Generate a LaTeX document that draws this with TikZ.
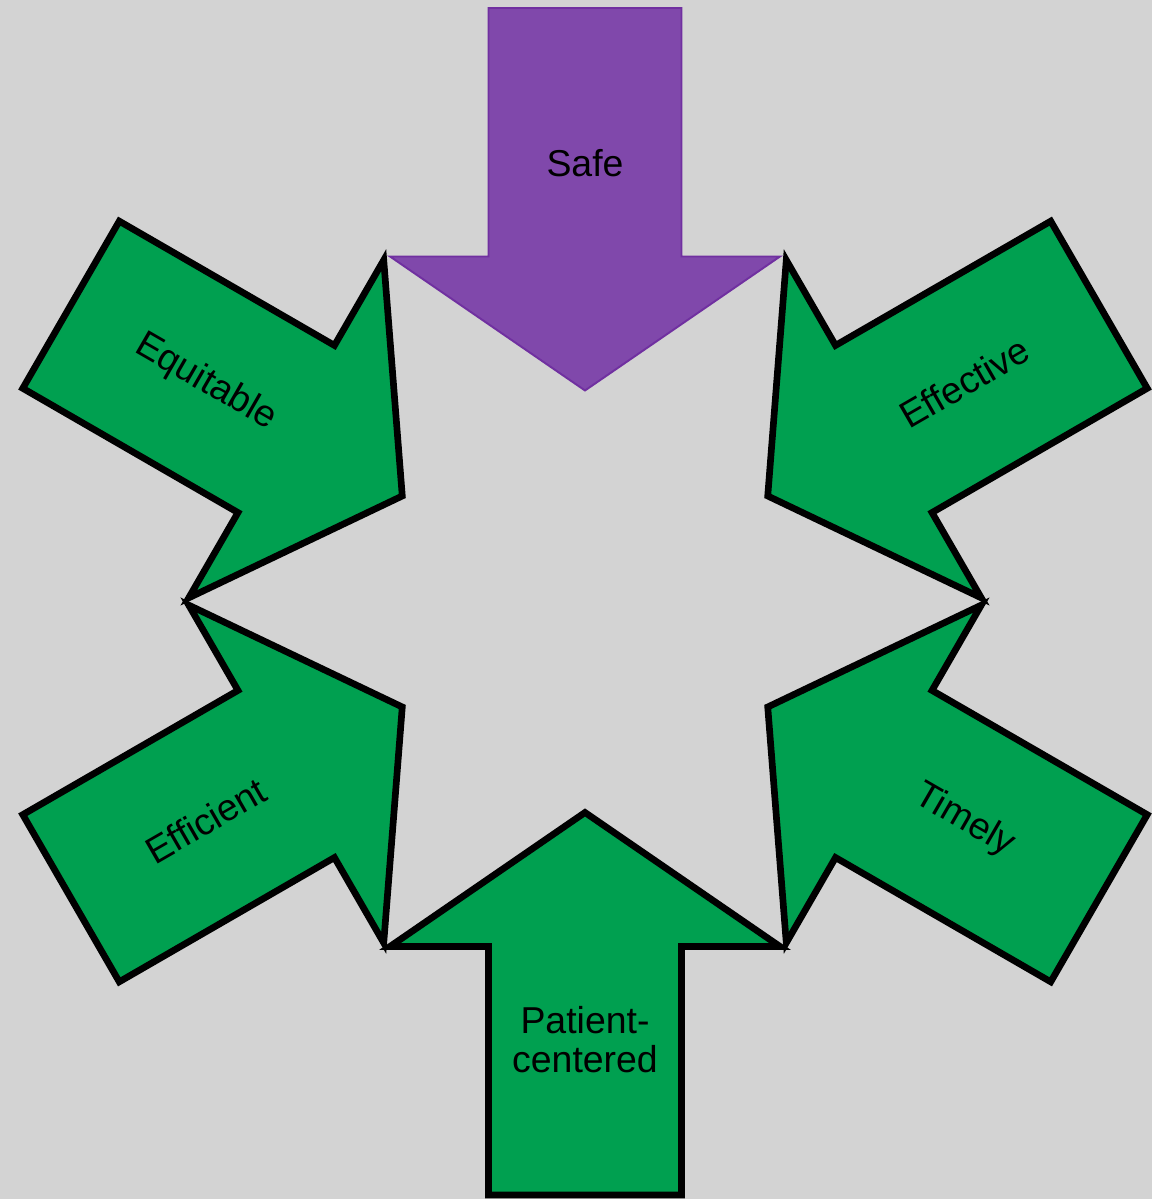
\documentclass[tikz,border=0pt]{standalone}
\usepackage{fontspec}
\setmainfont{Liberation Sans}
\usepackage{tikz}
\definecolor{pagegray}{HTML}{D3D3D3}
\definecolor{safepurple}{HTML}{8048AB}
\definecolor{safeedge}{HTML}{7030A0}
\definecolor{aimgreen}{HTML}{00A050}
\definecolor{inkblack}{HTML}{000000}

\begin{document}
\begin{tikzpicture}[
  x=0.02cm, y=0.02cm,
  every node/.style={font=\fontsize{21.3}{22.4}\selectfont, align=center, text=inkblack},
  aim/.style={fill=aimgreen, draw=inkblack, line width=3.8pt},
  safeaim/.style={fill=safepurple, draw=safeedge, line width=1.1pt},
]
  % page and centre of the star
  \fill[pagegray] (0,0) rectangle (1152,1199);
  \useasboundingbox (0,0) rectangle (1152,1199);
  \coordinate (hub) at (585,597.5);

  % six arrows, each pointing in at the hub
  \foreach \ang/\name/\txt/\trot/\sty in {
      90/safe/Safe/0/safeaim,
      30/effective/Effective/30/aim,
      -30/timely/Timely/-30/aim,
      -90/patient/{Patient-\\centered}/0/aim,
      -150/efficient/Efficient/30/aim,
      150/equitable/Equitable/-30/aim} {
    \begin{scope}[shift={(hub)}, rotate=\ang]
      \draw[\sty] (211,0) -- (345,195) -- (345,96.5) -- (593.5,96.5)
        -- (593.5,-96.5) -- (345,-96.5) -- (345,-195) -- cycle;
      \node[rotate=\trot] (\name) at (438,0) {\txt};
    \end{scope}
  }
\end{tikzpicture}
\end{document}
